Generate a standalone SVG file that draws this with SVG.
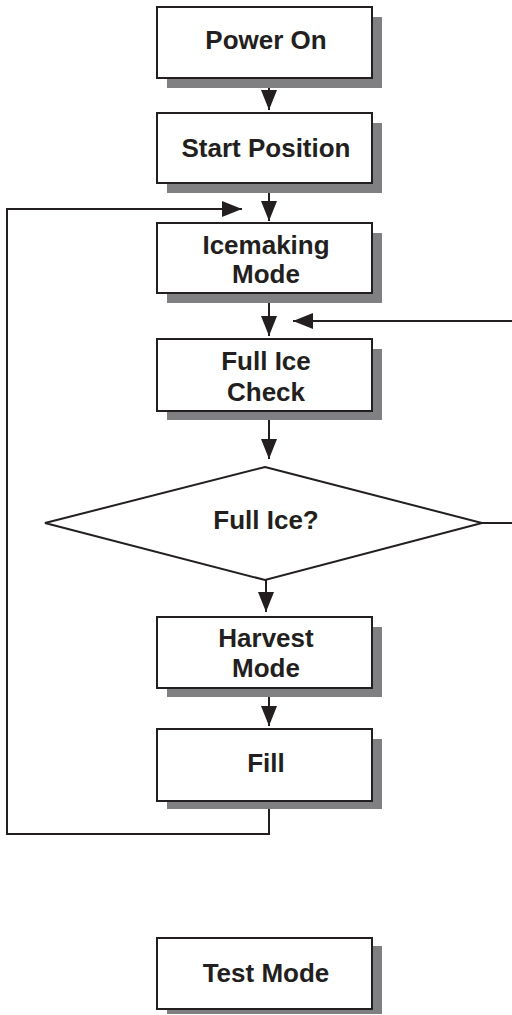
<svg xmlns="http://www.w3.org/2000/svg" width="512" height="1015" viewBox="0 0 512 1015">
<style>
.shadow{fill:#808083;stroke:none}
.box{fill:#fff;stroke:#231f20;stroke-width:2}
.lbl{font-family:"Liberation Sans",Arial,Helvetica,sans-serif;font-weight:bold;font-size:26px;fill:#231f20;text-anchor:middle}
.conn{fill:none;stroke:#231f20;stroke-width:2}
</style>
<defs>
<marker id="ah" viewBox="0 0 20 16" refX="20" refY="8" markerWidth="20" markerHeight="16" markerUnits="userSpaceOnUse" orient="auto">
<path d="M0,0 L20,8 L0,16 Z" fill="#231f20"/>
</marker>
</defs>
<rect width="512" height="1015" fill="#fff"/>
<g id="connectors">
<path class="conn" d="M269,78 V110" marker-end="url(#ah)"/>
<path class="conn" d="M269,183 V221" marker-end="url(#ah)"/>
<path class="conn" d="M269,293 V336" marker-end="url(#ah)"/>
<path class="conn" d="M269,411 V459" marker-end="url(#ah)"/>
<path class="conn" d="M266,580 V612" marker-end="url(#ah)"/>
<path class="conn" d="M269,688 V726" marker-end="url(#ah)"/>
<path class="conn" d="M269,801 V834 H7 V209 H242" marker-end="url(#ah)"/>
<path class="conn" d="M482,523 H514 V321 H293" marker-end="url(#ah)"/>
</g>
<g id="power-on">
<rect class="shadow" x="167" y="17" width="215" height="71"/>
<rect class="box" x="157" y="7" width="215" height="71"/>
<text class="lbl" x="266" y="49">Power On</text>
</g>
<g id="start-position">
<rect class="shadow" x="167" y="123" width="215" height="70"/>
<rect class="box" x="157" y="113" width="215" height="70"/>
<text class="lbl" x="266" y="157">Start Position</text>
</g>
<g id="icemaking-mode">
<rect class="shadow" x="167" y="233" width="215" height="70"/>
<rect class="box" x="157" y="223" width="215" height="70"/>
<text class="lbl" x="266" y="254">Icemaking</text>
<text class="lbl" x="266" y="283">Mode</text>
</g>
<g id="full-ice-check">
<rect class="shadow" x="167" y="349" width="215" height="71"/>
<rect class="box" x="157" y="339" width="215" height="72"/>
<text class="lbl" x="266" y="370">Full Ice</text>
<text class="lbl" x="266" y="401">Check</text>
</g>
<g id="full-ice-decision">
<polygon class="box" points="265,467 482,523 265,580 45,523"/>
<text class="lbl" x="266" y="529">Full Ice?</text>
</g>
<g id="harvest-mode">
<rect class="shadow" x="167" y="627" width="215" height="70"/>
<rect class="box" x="157" y="617" width="215" height="71"/>
<text class="lbl" x="266" y="647">Harvest</text>
<text class="lbl" x="266" y="677">Mode</text>
</g>
<g id="fill">
<rect class="shadow" x="167" y="739" width="215" height="70"/>
<rect class="box" x="157" y="729" width="215" height="72"/>
<text class="lbl" x="266" y="772">Fill</text>
</g>
<g id="test-mode">
<rect class="shadow" x="167" y="946" width="215" height="68"/>
<rect class="box" x="157" y="938" width="215" height="71"/>
<text class="lbl" x="266" y="982">Test Mode</text>
</g>
</svg>
